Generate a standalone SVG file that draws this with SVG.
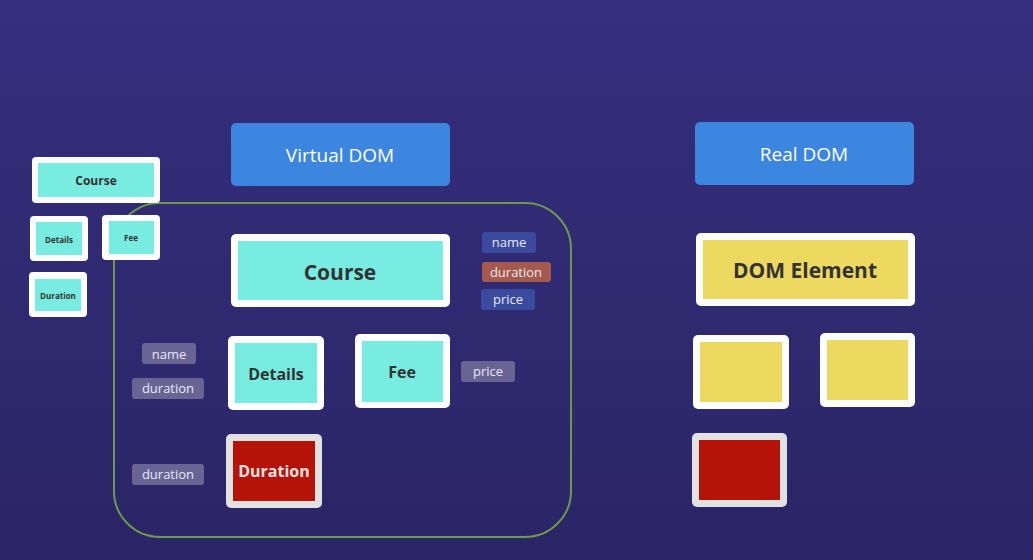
<svg xmlns="http://www.w3.org/2000/svg" width="1033" height="560" viewBox="0 0 1033 560">
<defs>
<linearGradient id="bg" x1="0" y1="0" x2="0" y2="1">
<stop offset="0" stop-color="#352f7e"/>
<stop offset="1" stop-color="#2b2566"/>
</linearGradient>
<style>
.outer{fill:#ffffff;}
.outerg{fill:#e2e2e2;}
.teal{fill:#78ece0;}
.yellow{fill:#eed960;}
.red{fill:#b51208;}
.hdr{fill:#3d86e0;}
.hdrt{fill:#ffffff;font-family:"Open Sans","Liberation Sans",sans-serif;font-size:19px;text-anchor:middle;dominant-baseline:central;}
.nt{fill:#333333;font-family:"Open Sans","Liberation Sans",sans-serif;font-weight:bold;text-anchor:middle;dominant-baseline:central;}
.tag{fill:#6a6494;}
.tagb{fill:#3a4b9e;}
.tagr{fill:#a45a4c;}
.tt{fill:#e8e8f4;font-family:"Open Sans","Liberation Sans",sans-serif;font-size:13px;text-anchor:middle;dominant-baseline:central;}
</style>
</defs>
<rect width="1033" height="560" fill="url(#bg)"/>
<g id="connectors"></g>
<g id="vdom-frame"><rect x="114" y="203" width="457" height="334" rx="46" fill="none" stroke="#6c9a4c" stroke-width="2"/></g>

<g id="mini-course"><rect class="outer" x="32" y="157" width="128" height="46" rx="4"/><rect class="teal" x="38" y="163" width="116" height="34"/><text class="nt" x="96" y="180" font-size="12">Course</text></g>
<g id="mini-details"><rect class="outer" x="30" y="216" width="58" height="45" rx="4"/><rect class="teal" x="36" y="222" width="46" height="33"/><text class="nt" x="59" y="239" font-size="8">Details</text></g>
<g id="mini-fee"><rect class="outer" x="102" y="215" width="58" height="45" rx="4"/><rect class="teal" x="109" y="221" width="45" height="33"/><text class="nt" x="131" y="237" font-size="8">Fee</text></g>
<g id="mini-duration"><rect class="outer" x="29" y="272" width="58" height="45" rx="4"/><rect class="teal" x="35" y="279" width="46" height="32"/><text class="nt" x="58" y="295" font-size="8">Duration</text></g>

<g id="virtual-dom-header"><rect class="hdr" x="231" y="123" width="219" height="63" rx="5"/><text class="hdrt" x="340" y="155">Virtual DOM</text></g>
<g id="real-dom-header"><rect class="hdr" x="695" y="122" width="219" height="63" rx="5"/><text class="hdrt" x="804" y="154">Real DOM</text></g>

<g id="course"><rect class="outer" x="231" y="234" width="219" height="73" rx="5"/><rect class="teal" x="238" y="241" width="205" height="59"/><text class="nt" x="340" y="272" font-size="21">Course</text></g>
<g id="tag-name-1"><rect class="tagb" x="482" y="232" width="54" height="21" rx="3"/><text class="tt" x="509" y="242">name</text></g>
<g id="tag-duration-1"><rect class="tagr" x="482" y="262" width="69" height="20" rx="3"/><text class="tt" x="516" y="272">duration</text></g>
<g id="tag-price-1"><rect class="tagb" x="481" y="289" width="54" height="21" rx="3"/><text class="tt" x="508" y="299">price</text></g>

<g id="details"><rect class="outer" x="228" y="336" width="96" height="74" rx="5"/><rect class="teal" x="235" y="343" width="82" height="60"/><text class="nt" x="276" y="374" font-size="16">Details</text></g>
<g id="fee"><rect class="outer" x="355" y="334" width="95" height="74" rx="5"/><rect class="teal" x="362" y="341" width="81" height="61"/><text class="nt" x="402" y="372" font-size="16">Fee</text></g>
<g id="tag-price-2"><rect class="tag" x="461" y="361" width="54" height="21" rx="3"/><text class="tt" x="488" y="371">price</text></g>
<g id="tag-name-2"><rect class="tag" x="142" y="343" width="54" height="21" rx="3"/><text class="tt" x="169" y="354">name</text></g>
<g id="tag-duration-2"><rect class="tag" x="132" y="378" width="72" height="21" rx="3"/><text class="tt" x="168" y="388">duration</text></g>
<g id="tag-duration-3"><rect class="tag" x="132" y="464" width="72" height="21" rx="3"/><text class="tt" x="168" y="474">duration</text></g>
<g id="duration"><rect class="outerg" x="226" y="434" width="96" height="74" rx="5"/><rect class="red" x="233" y="441" width="82" height="60"/><text class="nt" x="274" y="471" font-size="16" style="fill:#ece2e2">Duration</text></g>

<g id="dom-element"><rect class="outer" x="696" y="233" width="219" height="73" rx="5"/><rect class="yellow" x="703" y="240" width="205" height="59"/><text class="nt" x="805" y="270" font-size="21">DOM Element</text></g>
<g id="real-1"><rect class="outer" x="693" y="335" width="96" height="74" rx="5"/><rect class="yellow" x="700" y="342" width="82" height="60"/></g>
<g id="real-2"><rect class="outer" x="820" y="333" width="95" height="74" rx="5"/><rect class="yellow" x="827" y="340" width="81" height="60"/></g>
<g id="real-3"><rect class="outerg" x="692" y="433" width="95" height="74" rx="5"/><rect class="red" x="699" y="440" width="81" height="60"/></g>
</svg>
